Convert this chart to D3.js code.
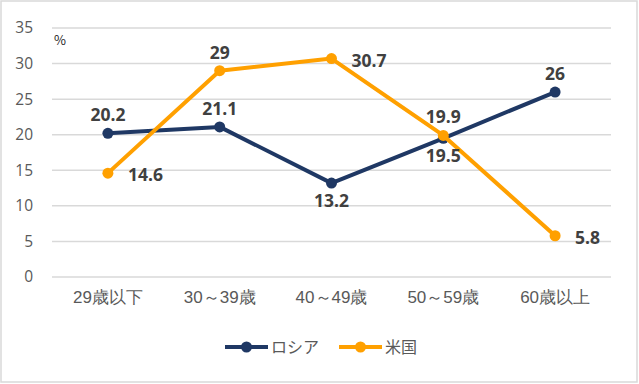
<!DOCTYPE html>
<html>
<head>
<meta charset="utf-8">
<script src="https://cdn.jsdelivr.net/npm/d3@7"></script>
<style>
  body { margin: 0; background: #fff; }
  svg { display: block; font-family: "Noto Sans CJK JP", "Noto Sans", sans-serif; }
</style>
</head>
<body>
<div id="chart"></div>
<script>
// data
var categories = ["29歳以下", "30～39歳", "40～49歳", "50～59歳", "60歳以上"];
var russia = [20.2, 21.1, 13.2, 19.5, 26];
var usa = [14.6, 29, 30.7, 19.9, 5.8];
var yTicks = [0, 5, 10, 15, 20, 25, 30, 35];
// label placement per point: "top", "bottom", "right"
var russiaPos = ["top", "top", "bottom", "bottom", "top"];
var usaPos = ["right", "top", "right", "top", "right"];

var series = [
	{name: "ロシア", values: russia, color: "#1f3864", pos: russiaPos},
	{name: "米国", values: usa, color: "#ffa000", pos: usaPos}
];

var W = 639, H = 384;
var margin = {top: 28, right: 28, bottom: 107, left: 52},
	width = W - margin.left - margin.right,
	height = H - margin.top - margin.bottom;

var svg = d3.select("#chart").append("svg")
	.attr("width", W)
	.attr("height", H);

// outer frame
svg.append("rect")
	.attr("x", 1).attr("y", 1)
	.attr("width", W - 3).attr("height", H - 3)
	.attr("fill", "#fff")
	.attr("stroke", "#d9d9d9")
	.attr("stroke-width", 1.5);

var g = svg.append("g")
	.attr("transform", "translate(" + margin.left + "," + margin.top + ")");

var x = d3.scaleBand().domain(categories).range([0, width]);
var y = d3.scaleLinear().domain([0, 35]).range([height, 0]);

// gridlines
g.append("g")
	.selectAll("line")
	.data(yTicks)
	.enter().append("line")
	.attr("x1", 0).attr("x2", width)
	.attr("y1", d => y(d)).attr("y2", d => y(d))
	.attr("stroke", "#d9d9d9")
	.attr("stroke-width", 1.5);

// y axis labels
var yAxis = g.append("g")
	.call(d3.axisLeft(y).tickValues(yTicks).tickSize(0).tickPadding(19));
yAxis.select(".domain").remove();
yAxis.selectAll("text")
	.attr("fill", "#595959")
	.style("font-size", "15.5px")
	.style("font-family", "'Open Sans', sans-serif");

// x axis labels
var xAxis = g.append("g")
	.attr("transform", "translate(0," + height + ")")
	.call(d3.axisBottom(x).tickSize(0).tickPadding(14));
xAxis.select(".domain").remove();
xAxis.selectAll("text")
	.attr("fill", "#595959")
	.style("font-size", "17px");

// unit
g.append("text")
	.attr("x", 2).attr("y", 17)
	.attr("fill", "#262626")
	.style("font-size", "13px")
	.text("%");

var line = d3.line()
	.x((d, i) => x(categories[i]) + x.bandwidth() / 2)
	.y(d => y(d));

series.forEach(function(s) {
	g.append("path")
		.datum(s.values)
		.attr("fill", "none")
		.attr("stroke", s.color)
		.attr("stroke-width", 4)
		.attr("stroke-linejoin", "round")
		.attr("d", line);

	g.selectAll(null)
		.data(s.values)
		.enter().append("circle")
		.attr("cx", (d, i) => x(categories[i]) + x.bandwidth() / 2)
		.attr("cy", d => y(d))
		.attr("r", 5.5)
		.attr("fill", s.color);
});

// data labels on top of lines
series.forEach(function(s) {
	g.selectAll(null)
		.data(s.values)
		.enter().append("text")
		.attr("x", function(d, i) {
			var cx = x(categories[i]) + x.bandwidth() / 2;
			return s.pos[i] == "right" ? cx + 20 : cx;
		})
		.attr("y", function(d, i) {
			var cy = y(d);
			if (s.pos[i] == "top") return cy - 12;
			if (s.pos[i] == "bottom") return cy + 24;
			return cy + 8;
		})
		.attr("text-anchor", (d, i) => s.pos[i] == "right" ? "start" : "middle")
		.attr("fill", "#404040")
		.style("font-size", "17.5px")
		.style("font-weight", "bold")
		.style("font-family", "'Open Sans', sans-serif")
		.text(d => d);
});

// legend
var legend = svg.append("g")
	.attr("transform", "translate(225,347)");
var lx = 0;
series.forEach(function(s) {
	var item = legend.append("g").attr("transform", "translate(" + lx + ",0)");
	item.append("line")
		.attr("x1", 0).attr("x2", 43)
		.attr("y1", 0).attr("y2", 0)
		.attr("stroke", s.color)
		.attr("stroke-width", 4);
	item.append("circle")
		.attr("cx", 21.5).attr("cy", 0).attr("r", 5.5)
		.attr("fill", s.color);
	var t = item.append("text")
		.attr("x", 46).attr("y", 6)
		.attr("fill", "#595959")
		.style("font-size", "16px")
		.text(s.name);
	lx += 46 + t.node().getComputedTextLength() + 20;
});
</script>
</body>
</html>
